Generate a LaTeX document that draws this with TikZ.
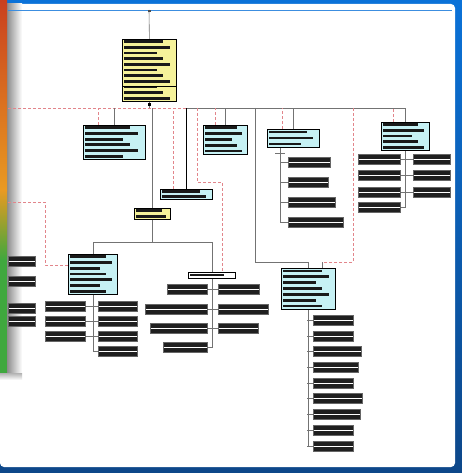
\documentclass[tikz,border=0pt]{standalone}
\usetikzlibrary{calc,positioning}
\definecolor{frameblue}{HTML}{0B72D8}
\definecolor{framedark}{HTML}{0D4789}
\definecolor{boxcyan}{HTML}{C6F1F4}
\definecolor{boxyellow}{HTML}{F5F29A}
\definecolor{linkpink}{HTML}{E2858B}
\definecolor{stripred}{HTML}{C9401E}
\definecolor{striporange}{HTML}{E99A22}
\definecolor{stripgreen}{HTML}{3FA83E}
\tikzset{
  unit/.style={draw=black,line width=0.8pt,inner sep=0pt,anchor=north west},
  leaf/.style={draw=black!60,fill=black!88,line width=0.6pt,inner sep=0pt,anchor=west,minimum height=10pt},
  conn/.style={draw=black!55,line width=0.6pt},
  heavy/.style={draw=black,line width=1.4pt},
  aux/.style={draw=linkpink,line width=0.7pt,dash pattern=on 3pt off 2pt}
}
% box with its (unreadable) text lines
\newcommand{\unitbox}[7]{%
  \node[unit,fill=#6,minimum width=#4pt,minimum height=#5pt] (#1) at (#2,#3) {};
  \foreach \k in {1,...,#7}{
    \pgfmathsetmacro{\bw}{(0.62+0.12*mod(\k,3))*#4}
    \fill[black!90] ($(#1.north west)+(1.5,{#5*(\k-0.5)/#7-1.4})$) rectangle ++(\bw,2.8);
  }
}
\newcommand{\leafbox}[4]{%
  \node[leaf,minimum width=#4pt] (#1) at (#2,#3) {};
  \draw[white,line width=0.5pt] ($(#1.west)+(1,0)$) -- ($(#1.east)+(-1,0)$);
}

\begin{document}
\begin{tikzpicture}[x=1pt,y=-1pt]
  \useasboundingbox (0,0) rectangle (462,473);
  % frame
  \shade[top color=frameblue,bottom color=framedark] (0,0) rectangle (462,473);
  \fill[white,rounded corners=4pt] (0,4) rectangle (455,467);
  \shade[left color=black!45,right color=white] (7,4) rectangle (22,373);
  \shade[top color=black!30,bottom color=white] (0,373) rectangle (22,380);
  \shade[top color=stripred,bottom color=striporange] (0,0) rectangle (7,190);
  \shade[top color=striporange,bottom color=stripgreen] (0,190) rectangle (7,260);
  \fill[stripgreen] (0,260) rectangle (7,373);
  \draw[frameblue!80!white,line width=0.8pt] (8,10) -- (452,10);

  % boxes
  \unitbox{root}{122}{39}{54}{62}{boxyellow}{11}
  \draw[black,line width=0.6pt] ($(root.north west)+(0,47)$) -- ($(root.north east)+(0,47)$);
  \unitbox{A}{83}{125}{62}{34}{boxcyan}{6}
  \unitbox{B}{203}{125}{44}{29}{boxcyan}{5}
  \unitbox{C}{267}{129}{52}{18}{boxcyan}{3}
  \unitbox{D}{381}{122}{48}{28}{boxcyan}{5}
  \unitbox{E}{134}{208}{36}{11}{boxyellow}{2}
  \unitbox{F}{160}{189}{52}{10}{boxcyan}{2}
  \unitbox{G}{68}{254}{49}{40}{boxcyan}{7}
  \unitbox{H}{188}{272}{47}{6}{white}{1}
  \unitbox{K}{281}{268}{54}{41}{boxcyan}{7}

  % bus
  \coordinate (top) at (149,10);
  \coordinate (busL) at (8,108);
  \coordinate (busM) at (187,108);
  \coordinate (busR) at (405,108);
  \coordinate (kdrop) at (255,108);
  \coordinate (kaux) at (353,108);
  \coordinate (faux) at (197,108);
  \coordinate (fbend) at (222,182);
  \coordinate (gaux) at (8,202);
  \draw[conn] (top) -- (root.north);
  \fill[black!70] ($(top)+(-1.5,0)$) rectangle ++(3,2);
  \draw[conn] (root.south) -- (root.south |- busL);
  \fill[black] ($(root.south)+(-1.5,1)$) rectangle ++(3,3);
  \draw[aux] (busL) -- (busM);
  \draw[conn] (busM) -- (busR);

  % drops
  \draw[conn] (A.north) -- (A.north |- busL);
  \draw[aux] (A.north west) ++(15,0) coordinate (a1) -- (a1 |- busL);
  \draw[conn] (B.north) -- (B.north |- busL);
  \draw[aux] (B.north west) ++(12,0) coordinate (b1) -- (b1 |- busL);
  \draw[conn] (C.north) -- (C.north |- busL);
  \draw[aux] (C.north west) ++(15,0) coordinate (c0) -- (c0 |- busL);
  \draw[conn] (D.north) -- (D.north |- busL);
  \draw[aux] (D.north west) ++(12,0) coordinate (d1) -- (d1 |- busL);
  \draw[conn] (E.north) -- (E.north |- busL);
  \draw[heavy] (F.north) -- (F.north |- busL);
  \draw[aux] (F.north west) ++(13,0) coordinate (f1) -- (f1 |- busL);
  \path (H.north west) ++(34,0) coordinate (h1);
  \draw[aux] (faux) |- (fbend) -- (h1);
  \draw[conn] (K.north) -- ++(0,-6) coordinate (k1);
  \draw[conn] (kdrop) |- (k1);
  \draw[conn] (K.north west) ++(41,0) coordinate (k2) -- ++(0,-6) coordinate (k3);
  \draw[aux] (kaux) |- (k3);
  \draw[aux] (gaux) -- ++(37,0) |- ($(G.north west)+(0,11)$);
  \draw[conn] (E.south) -- ++(0,22) coordinate (split);
  \draw[conn] (G.north) |- (split) -| (H.north);

  % children of C
  \foreach \i/\w in {1/42,2/40,3/47,4/55}{
    \pgfmathsetmacro{\yy}{142+20*\i}
    \leafbox{c\i}{288}{\yy}{\w}
    \draw[conn] (c\i.west) -- ++(-8,0);
  }
  \draw[conn] ($(C.south west)+(13,0)$) |- (c4.west);
  \draw[conn] ($(C.south west)+(8,6)$) -- ++(10,0);

  % children of D
  \foreach \i/\y in {1/159,2/175,3/192,4/207}{
    \leafbox{dl\i}{358}{\y}{42}
  }
  \foreach \i/\y in {1/159,2/175,3/192}{
    \leafbox{dr\i}{413}{\y}{37}
    \draw[conn] (dl\i.east) -- (dr\i.west);
  }
  \draw[conn] (D.south) |- (dl4.east);

  % children of G
  \foreach \i/\y in {1/306,2/321,3/336}{
    \leafbox{gl\i}{45}{\y}{40}
  }
  \foreach \i/\y in {1/306,2/321,3/336,4/351}{
    \leafbox{gr\i}{98}{\y}{39}
  }
  \foreach \i in {1,2,3}{
    \draw[conn] (gl\i.east) -- (gr\i.west);
  }
  \draw[conn] (G.south) |- (gr4.west);

  % children of H
  \foreach \i/\y/\x/\w in {1/289/167/40,2/309/145/62,3/328/150/57,4/347/163/44}{
    \leafbox{hl\i}{\x}{\y}{\w}
  }
  \foreach \i/\y/\w in {1/289/41,2/309/50,3/328/40}{
    \leafbox{hr\i}{218}{\y}{\w}
    \draw[conn] (hl\i.east) -- (hr\i.west);
  }
  \draw[conn] (H.south) |- (hl4.east);

  % children of K
  \foreach \i/\w in {1/40,2/40,3/48,4/45,5/40,6/49,7/47,8/40,9/40}{
    \pgfmathsetmacro{\yy}{304.5+15.7*\i}
    \leafbox{k\i}{313}{\yy}{\w}
    \draw[conn] (k\i.west) -- ++(-6,0);
  }
  \draw[conn] (K.south) |- (k9.west);

  % side panel
  \foreach \i/\y in {1/261,2/281,3/308,4/321}{
    \leafbox{p\i}{8}{\y}{27}
  }
\end{tikzpicture}
\end{document}
